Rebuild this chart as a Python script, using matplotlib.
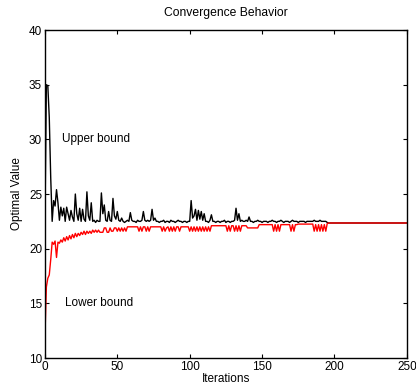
import numpy as np
import matplotlib.pyplot as plt
import matplotlib

matplotlib.rcParams['font.family'] = ['Liberation Sans', 'DejaVu Sans']

#upper bound per iteration (0..196)
upper = [22.4, 35.0, 34.9, 32.0, 26.5, 22.5, 24.4, 23.9, 25.4, 24.2,
         22.6, 23.8, 23.0, 23.7, 22.5, 23.8, 23.2, 22.6, 23.5, 22.9,
         22.5, 25.0, 23.2, 22.6, 23.7, 22.5, 23.6, 22.7, 22.5, 25.2,
         23.0, 22.6, 24.2, 22.5, 22.6, 22.4, 22.6, 22.5, 22.5, 25.1,
         23.2, 24.0, 22.6, 22.5, 23.4, 22.6, 22.5, 24.6, 23.0, 22.7,
         23.4, 22.6, 22.5, 22.8, 22.5, 22.4, 22.5, 22.6, 22.5, 23.3,
         22.6, 22.5, 22.5, 22.4, 22.6, 22.5, 22.5, 22.6, 23.4, 22.6,
         22.5, 22.6, 22.5, 22.6, 23.6, 22.6, 22.8, 22.5, 22.5, 22.4,
         22.5, 22.5, 22.6, 22.4, 22.5, 22.5, 22.4, 22.6, 22.5, 22.5,
         22.4, 22.5, 22.6, 22.5, 22.5, 22.4, 22.5, 22.5, 22.4, 22.5,
         22.5, 24.4, 22.8, 23.0, 23.6, 22.6, 23.5, 22.7, 23.4, 22.6,
         23.2, 22.5, 22.5, 22.4, 22.6, 23.1, 22.5, 22.5, 22.4, 22.5,
         22.5, 22.4, 22.5, 22.5, 22.6, 22.4, 22.5, 22.5, 22.4, 22.5,
         22.5, 22.6, 23.7, 22.6, 23.2, 22.5, 22.6, 22.5, 22.5, 22.6,
         22.5, 22.9, 22.5, 22.5, 22.4, 22.5, 22.5, 22.6, 22.5, 22.5,
         22.4, 22.5, 22.5, 22.5, 22.4, 22.5, 22.5, 22.6, 22.5, 22.5,
         22.4, 22.5, 22.5, 22.6, 22.5, 22.4, 22.5, 22.5, 22.5, 22.4,
         22.5, 22.6, 22.5, 22.5, 22.5, 22.4, 22.5, 22.5, 22.5, 22.5,
         22.4, 22.5, 22.5, 22.5, 22.5, 22.5, 22.6, 22.5, 22.5, 22.5,
         22.6, 22.5, 22.5, 22.5, 22.5, 22.4, 22.35]

#lower bound per iteration (0..196)
lower = [12.0, 16.5, 17.3, 17.6, 19.0, 20.6, 20.4, 20.7, 19.2, 20.6,
         20.5, 20.8, 20.6, 21.0, 20.7, 21.1, 20.8, 21.2, 20.9, 21.3,
         21.0, 21.4, 21.1, 21.4, 21.2, 21.5, 21.3, 21.6, 21.3, 21.6,
         21.4, 21.6, 21.4, 21.7, 21.5, 21.7, 21.5, 21.7, 21.5, 21.5,
         21.5, 21.9, 21.9, 21.5, 21.5, 21.9, 21.6, 21.6, 21.9, 21.9,
         21.6, 21.9, 21.6, 21.9, 21.6, 21.9, 21.6, 22.0, 22.0, 22.0,
         22.0, 22.0, 22.0, 22.0, 22.0, 21.6, 22.0, 21.6, 22.0, 22.0,
         21.6, 22.0, 21.6, 22.0, 22.0, 22.0, 22.0, 22.0, 22.0, 22.0,
         22.0, 21.6, 22.0, 21.6, 21.9, 22.0, 21.6, 22.0, 21.6, 22.0,
         21.6, 22.0, 22.0, 21.6, 22.0, 22.0, 22.0, 22.0, 22.0, 22.0,
         21.6, 22.0, 21.6, 22.0, 21.6, 22.0, 21.6, 22.0, 21.6, 22.0,
         21.6, 22.0, 21.6, 22.0, 21.6, 22.1, 22.1, 22.1, 22.1, 22.1,
         22.1, 22.1, 22.1, 22.1, 22.1, 22.1, 21.6, 22.1, 21.6, 22.1,
         22.1, 21.6, 22.1, 21.6, 22.1, 21.6, 22.1, 22.1, 22.1, 22.1,
         21.9, 21.9, 21.9, 21.9, 21.9, 21.9, 21.9, 21.9, 22.2, 22.2,
         22.2, 22.2, 22.2, 22.2, 22.2, 22.2, 22.2, 22.2, 21.6, 22.2,
         21.6, 22.2, 21.6, 22.2, 22.2, 22.2, 22.2, 22.2, 22.2, 22.2,
         21.6, 22.2, 21.6, 22.2, 22.2, 22.25, 22.25, 22.25, 22.25, 22.25,
         22.25, 22.25, 22.25, 22.25, 22.25, 22.25, 21.6, 22.2, 21.6, 22.2,
         21.6, 22.2, 21.6, 22.2, 21.6, 22.3, 22.35]

#after convergence both bounds sit at the optimum until the last iteration
converged = 22.35
last_iter = 250

it = list(range(len(upper))) + [last_iter]
up = upper + [converged]
lo = lower + [converged]

fig = plt.figure(figsize=(4.16, 3.90), dpi=100)
splot = fig.add_axes([0.108, 0.082, 0.870, 0.841])

splot.plot(it, up, color='k', linewidth=1.0)
splot.plot(it, lo, color='red', linewidth=1.0)

splot.text(12, 30, 'Upper bound', fontsize=8.5, va='center', ha='left')
splot.text(14, 15, 'Lower bound', fontsize=8.5, va='center', ha='left')

splot.set_xlim(0, 250)
splot.set_ylim(10, 40)
splot.set_xticks([0, 50, 100, 150, 200, 250])
splot.set_yticks([10, 15, 20, 25, 30, 35, 40])
splot.tick_params(direction='in', top=True, right=True, labelsize=8.5, length=3, pad=2)
for s in splot.spines.values():
    s.set_linewidth(1.0)

splot.set_xlabel('Iterations', fontsize=8.5, labelpad=0)
splot.set_ylabel('Optimal Value', fontsize=8.5, labelpad=4)
splot.set_title('Convergence Behavior', fontsize=8.7, pad=10)

plt.savefig('out.png', dpi=100)
